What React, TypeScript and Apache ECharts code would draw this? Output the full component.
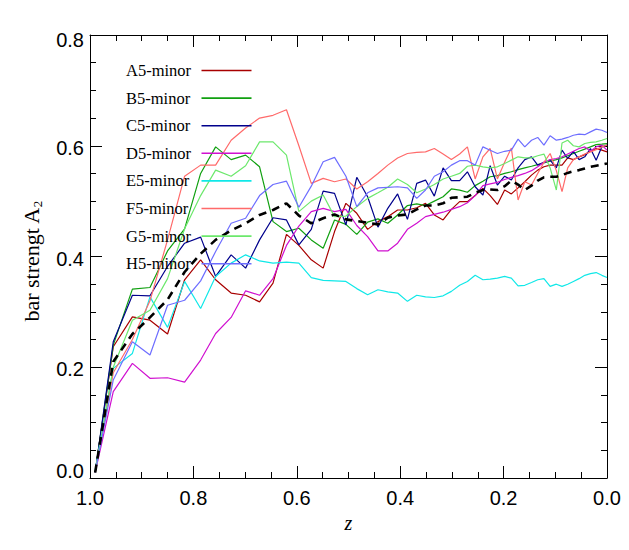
import React, { useEffect, useRef } from "react";
import * as echarts from "echarts";

// redshift samples shared by all runs
const Z = [0.99, 0.955, 0.918, 0.884, 0.85, 0.817, 0.786, 0.757, 0.727, 0.699, 0.672, 0.646, 0.62, 0.596, 0.572, 0.549, 0.527, 0.505, 0.484, 0.463, 0.443, 0.424, 0.405, 0.386, 0.368, 0.351, 0.334, 0.317, 0.301, 0.285, 0.27, 0.255, 0.24, 0.226, 0.212, 0.198, 0.185, 0.172, 0.159, 0.146, 0.134, 0.122, 0.11, 0.098, 0.087, 0.076, 0.065, 0.054, 0.043, 0.032, 0.021, 0.01, 0.0];

const A5 = [0.01, 0.237, 0.291, 0.285, 0.26, 0.358, 0.394, 0.358, 0.334, 0.33, 0.318, 0.352, 0.44, 0.42, 0.394, 0.379, 0.445, 0.496, 0.478, 0.449, 0.463, 0.472, 0.484, 0.484, 0.488, 0.496, 0.475, 0.466, 0.485, 0.499, 0.499, 0.51, 0.523, 0.51, 0.494, 0.52, 0.513, 0.524, 0.535, 0.547, 0.556, 0.562, 0.565, 0.565, 0.565, 0.578, 0.575, 0.58, 0.584, 0.59, 0.595, 0.592, 0.589];
const B5 = [0.01, 0.24, 0.341, 0.344, 0.41, 0.45, 0.55, 0.598, 0.575, 0.583, 0.562, 0.463, 0.445, 0.451, 0.43, 0.415, 0.466, 0.458, 0.44, 0.462, 0.468, 0.46, 0.475, 0.492, 0.495, 0.492, 0.5, 0.508, 0.522, 0.52, 0.516, 0.528, 0.536, 0.544, 0.546, 0.55, 0.553, 0.557, 0.56, 0.563, 0.566, 0.569, 0.572, 0.575, 0.578, 0.582, 0.586, 0.59, 0.594, 0.598, 0.602, 0.603, 0.604];
const C5 = [0.01, 0.246, 0.33, 0.329, 0.382, 0.424, 0.435, 0.364, 0.403, 0.379, 0.43, 0.47, 0.466, 0.421, 0.449, 0.518, 0.514, 0.457, 0.543, 0.508, 0.453, 0.487, 0.513, 0.467, 0.532, 0.538, 0.509, 0.56, 0.537, 0.537, 0.553, 0.526, 0.511, 0.564, 0.529, 0.545, 0.538, 0.56, 0.575, 0.58, 0.565, 0.57, 0.574, 0.56, 0.592, 0.577, 0.59, 0.575, 0.58, 0.595, 0.574, 0.598, 0.601];
const D5 = [0.01, 0.156, 0.207, 0.18, 0.181, 0.173, 0.213, 0.261, 0.29, 0.338, 0.33, 0.36, 0.42, 0.455, 0.481, 0.487, 0.481, 0.485, 0.456, 0.436, 0.41, 0.41, 0.424, 0.449, 0.46, 0.472, 0.476, 0.48, 0.485, 0.49, 0.497, 0.51, 0.528, 0.531, 0.534, 0.539, 0.543, 0.546, 0.55, 0.555, 0.562, 0.57, 0.575, 0.577, 0.58, 0.585, 0.59, 0.595, 0.598, 0.59, 0.598, 0.601, 0.592];
const E5 = [0.014, 0.198, 0.225, 0.327, 0.272, 0.355, 0.306, 0.364, 0.388, 0.403, 0.392, 0.388, 0.39, 0.388, 0.362, 0.357, 0.356, 0.355, 0.342, 0.331, 0.34, 0.336, 0.334, 0.319, 0.33, 0.327, 0.326, 0.329, 0.337, 0.348, 0.355, 0.366, 0.358, 0.359, 0.361, 0.364, 0.361, 0.347, 0.348, 0.353, 0.358, 0.36, 0.346, 0.35, 0.346, 0.35, 0.355, 0.36, 0.366, 0.369, 0.371, 0.366, 0.362];
const F5 = [0.01, 0.19, 0.25, 0.32, 0.43, 0.545, 0.565, 0.565, 0.61, 0.632, 0.65, 0.655, 0.665, 0.6, 0.532, 0.541, 0.535, 0.54, 0.522, 0.535, 0.55, 0.565, 0.578, 0.586, 0.588, 0.589, 0.595, 0.585, 0.575, 0.585, 0.598, 0.54, 0.58, 0.595, 0.54, 0.57, 0.596, 0.502, 0.535, 0.529, 0.55, 0.57, 0.586, 0.555, 0.517, 0.56, 0.575, 0.58, 0.585, 0.589, 0.593, 0.598, 0.601];
const G5 = [0.01, 0.2, 0.285, 0.303, 0.36, 0.45, 0.51, 0.556, 0.545, 0.564, 0.607, 0.607, 0.583, 0.481, 0.5, 0.511, 0.472, 0.473, 0.49, 0.505, 0.515, 0.525, 0.54, 0.53, 0.515, 0.522, 0.53, 0.54, 0.545, 0.55, 0.563, 0.565, 0.562, 0.56, 0.562, 0.568, 0.574, 0.58, 0.578, 0.578, 0.582, 0.585, 0.56, 0.52, 0.605, 0.61, 0.6, 0.598, 0.604, 0.606, 0.607, 0.61, 0.613];
const H5 = [0.01, 0.177, 0.246, 0.222, 0.312, 0.321, 0.356, 0.409, 0.46, 0.469, 0.51, 0.53, 0.536, 0.489, 0.527, 0.571, 0.579, 0.545, 0.49, 0.515, 0.524, 0.525, 0.526, 0.524, 0.505, 0.52, 0.545, 0.553, 0.565, 0.573, 0.573, 0.565, 0.598, 0.592, 0.586, 0.59, 0.592, 0.612, 0.598, 0.61, 0.615, 0.601, 0.618, 0.61, 0.612, 0.615, 0.619, 0.621, 0.62, 0.625, 0.63, 0.628, 0.624];
const MEAN = [0.01, 0.21, 0.26, 0.29, 0.322, 0.372, 0.405, 0.43, 0.447, 0.46, 0.475, 0.484, 0.496, 0.474, 0.46, 0.469, 0.476, 0.467, 0.464, 0.461, 0.458, 0.47, 0.474, 0.476, 0.485, 0.492, 0.492, 0.496, 0.506, 0.507, 0.508, 0.515, 0.52, 0.521, 0.52, 0.527, 0.537, 0.53, 0.52, 0.528, 0.537, 0.543, 0.544, 0.544, 0.547, 0.551, 0.554, 0.556, 0.559, 0.562, 0.564, 0.566, 0.568];

const NAMES = ["A5-minor", "B5-minor", "C5-minor", "D5-minor", "E5-minor", "F5-minor", "G5-minor", "H5-minor"];
const VALUES = [A5, B5, C5, D5, E5, F5, G5, H5];
const COLORS = ["#a80000", "#10a010", "#00008c", "#d010d0", "#10e8e8", "#ff6a6a", "#6ce86c", "#6e6eff"];

const X_TICKS = [1.0, 0.8, 0.6, 0.4, 0.2, 0.0];
const Y_TICKS = [0.0, 0.2, 0.4, 0.6, 0.8];

const SANS = "Liberation Sans";
const SERIF = "Liberation Serif";

export default function App() {
  const ref = useRef<HTMLDivElement>(null);

  useEffect(() => {
    if (!ref.current) return;
    const chart = echarts.init(ref.current, null, { renderer: "svg" });

    const axisCommon = {
      axisLine: { show: true, onZero: false, lineStyle: { color: "#000", width: 1 } },
      axisTick: { show: true, inside: true, length: 12, lineStyle: { color: "#000", width: 1 } },
      minorTick: { show: true, splitNumber: 4, length: 6, lineStyle: { color: "#000", width: 1 } },
      splitLine: { show: false },
      minorSplitLine: { show: false },
    };

    const xMin = X_TICKS[X_TICKS.length - 1];
    const xMax = X_TICKS[0];
    const yMin = Y_TICKS[0];
    const yMax = Y_TICKS[Y_TICKS.length - 1];

    const series: any[] = NAMES.map((name, i) => ({
      name,
      type: "line",
      data: Z.map((z, j) => [z, VALUES[i][j]]),
      symbol: "none",
      showSymbol: false,
      lineStyle: { color: COLORS[i], width: 1.2 },
      itemStyle: { color: COLORS[i] },
      z: 2,
    }));
    series.push({
      name: "mean",
      type: "line",
      data: Z.map((z, j) => [z, MEAN[j]]),
      symbol: "none",
      showSymbol: false,
      lineStyle: { color: "#000", width: 2.6, type: [8, 6] },
      itemStyle: { color: "#000" },
      z: 3,
    });

    chart.setOption({
      animation: false,
      backgroundColor: "#fff",
      grid: { left: 90, top: 35, right: 22, bottom: 72, containLabel: false },
      legend: {
        data: NAMES,
        orient: "vertical",
        left: 126,
        top: 62,
        padding: 0,
        align: "right",
        icon: "rect",
        itemWidth: 50,
        itemHeight: 1.6,
        itemGap: 10.6,
        selectedMode: false,
        formatter: (name: string) => "{n|" + name + "}",
        textStyle: {
          fontFamily: SERIF,
          fontSize: 16.5,
          color: "#000",
          lineHeight: 16,
          rich: {
            n: { fontFamily: SERIF, fontSize: 16.5, color: "#000", lineHeight: 16, width: 70.5, align: "left" },
          },
        },
      },
      xAxis: [
        {
          type: "value",
          min: xMin,
          max: xMax,
          interval: 0.2,
          inverse: true,
          position: "bottom",
          ...axisCommon,
          axisLabel: {
            show: true,
            margin: 10,
            color: "#000",
            fontFamily: SANS,
            fontSize: 20,
            formatter: (v: number) => v.toFixed(1),
          },
          name: "z",
          nameLocation: "middle",
          nameGap: 35,
          nameTextStyle: { fontFamily: SERIF, fontStyle: "italic", fontSize: 20, color: "#000" },
        },
        {
          type: "value",
          min: xMin,
          max: xMax,
          interval: 0.2,
          inverse: true,
          position: "top",
          ...axisCommon,
          axisLabel: { show: false },
        },
      ],
      yAxis: [
        {
          type: "value",
          min: yMin,
          max: yMax,
          interval: 0.2,
          position: "left",
          ...axisCommon,
          axisLabel: {
            show: true,
            margin: 6,
            color: "#000",
            fontFamily: SANS,
            fontSize: 20,
            formatter: (v: number) => {
              const s = v.toFixed(1);
              if (Math.abs(v - yMax) < 1e-9) return "{t|" + s + "}";
              if (Math.abs(v - yMin) < 1e-9) return "{b|" + s + "}";
              return "{m|" + s + "}";
            },
            rich: {
              t: { fontFamily: SANS, fontSize: 20, color: "#000", padding: [10, 0, 0, 0] },
              b: { fontFamily: SANS, fontSize: 20, color: "#000", padding: [0, 0, 14, 0] },
              m: { fontFamily: SANS, fontSize: 20, color: "#000", padding: [4, 0, 0, 0] },
            },
          },
          name: "{a|bar strengt A}{s|2}",
          nameLocation: "middle",
          nameGap: 46,
          nameRotate: 90,
          nameTextStyle: {
            color: "#000",
            padding: [0, 10, 0, 0],
            rich: {
              a: { fontFamily: SERIF, fontSize: 22, color: "#000", lineHeight: 26 },
              s: { fontFamily: SERIF, fontSize: 13, color: "#000", lineHeight: 13, verticalAlign: "bottom" },
            },
          },
        },
        {
          type: "value",
          min: yMin,
          max: yMax,
          interval: 0.2,
          position: "right",
          ...axisCommon,
          axisLabel: { show: false },
        },
      ],
      series,
    });

    return () => chart.dispose();
  }, []);

  return (
    <div
      ref={ref}
      style={{ position: "absolute", left: 0, top: 0, width: 629, height: 550, background: "#fff" }}
    />
  );
}
